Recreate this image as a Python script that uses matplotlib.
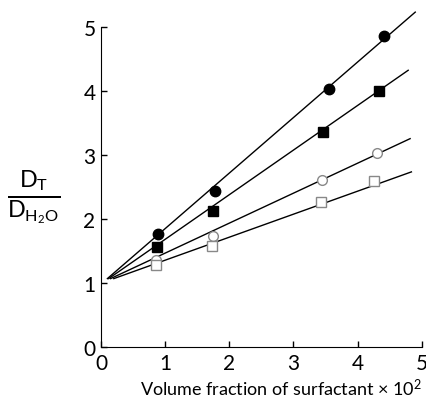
import matplotlib
matplotlib.use("Agg")
import matplotlib.pyplot as plt

plt.rcParams['font.family'] = ['Lato', 'DejaVu Sans']
plt.rcParams['mathtext.fontset'] = 'custom'
plt.rcParams['mathtext.rm'] = 'Lato'
plt.rcParams['mathtext.it'] = 'Lato'

# Data
filled_circle_x = [0.89, 1.77, 3.56, 4.42]
filled_circle_y = [1.77, 2.44, 4.03, 4.86]
filled_square_x = [0.87, 1.75, 3.46, 4.33]
filled_square_y = [1.57, 2.13, 3.37, 4.00]
open_circle_x = [0.86, 1.75, 3.44, 4.30]
open_circle_y = [1.36, 1.74, 2.62, 3.03]
open_square_x = [0.85, 1.73, 3.43, 4.26]
open_square_y = [1.29, 1.58, 2.27, 2.60]

# Fitted lines (start/end)
line_x = [[0.10, 4.90], [0.12, 4.79], [0.15, 4.82], [0.20, 4.84]]
line_y = [[1.07, 5.24], [1.07, 4.33], [1.07, 3.26], [1.07, 2.74]]

x_ticks = [0, 1, 2, 3, 4, 5]
y_ticks = [0, 1, 2, 3, 4, 5]

fig = plt.figure(figsize=(4.27, 4.06), dpi=100)
ax = fig.add_axes([0.2365, 0.1429, 0.751, 0.787])

for lx, ly in zip(line_x, line_y):
    ax.plot(lx, ly, color='black', lw=1.0, clip_on=False, zorder=2)

ax.plot(filled_circle_x, filled_circle_y, 'o', color='black', ms=7.5, clip_on=False, zorder=3)
ax.plot(filled_square_x, filled_square_y, 's', color='black', ms=7, clip_on=False, zorder=3)
ax.plot(open_circle_x, open_circle_y, 'o', mfc='white', mec='#888888', mew=1.0, ms=7, clip_on=False, zorder=3)
ax.plot(open_square_x, open_square_y, 's', mfc='white', mec='#888888', mew=1.0, ms=7, clip_on=False, zorder=3)

ax.set_xlim(0, 5)
ax.set_ylim(0, 5)
ax.set_xticks(x_ticks)
ax.set_yticks(y_ticks)
ax.spines['top'].set_visible(False)
ax.spines['right'].set_visible(False)
ax.tick_params(direction='in', length=4, width=1, labelsize=15, pad=4)

fig.text(0.988, 0.042, 'Volume fraction of surfactant $\\times$ 10$^{2}$', fontsize=13,
         ha='right', va='center')
fig.text(0.08, 0.512, r'$\frac{\mathrm{D_T}}{\mathrm{D_{H_2O}}}$', fontsize=24,
         ha='center', va='center')

fig.savefig('out.png', dpi=100)
